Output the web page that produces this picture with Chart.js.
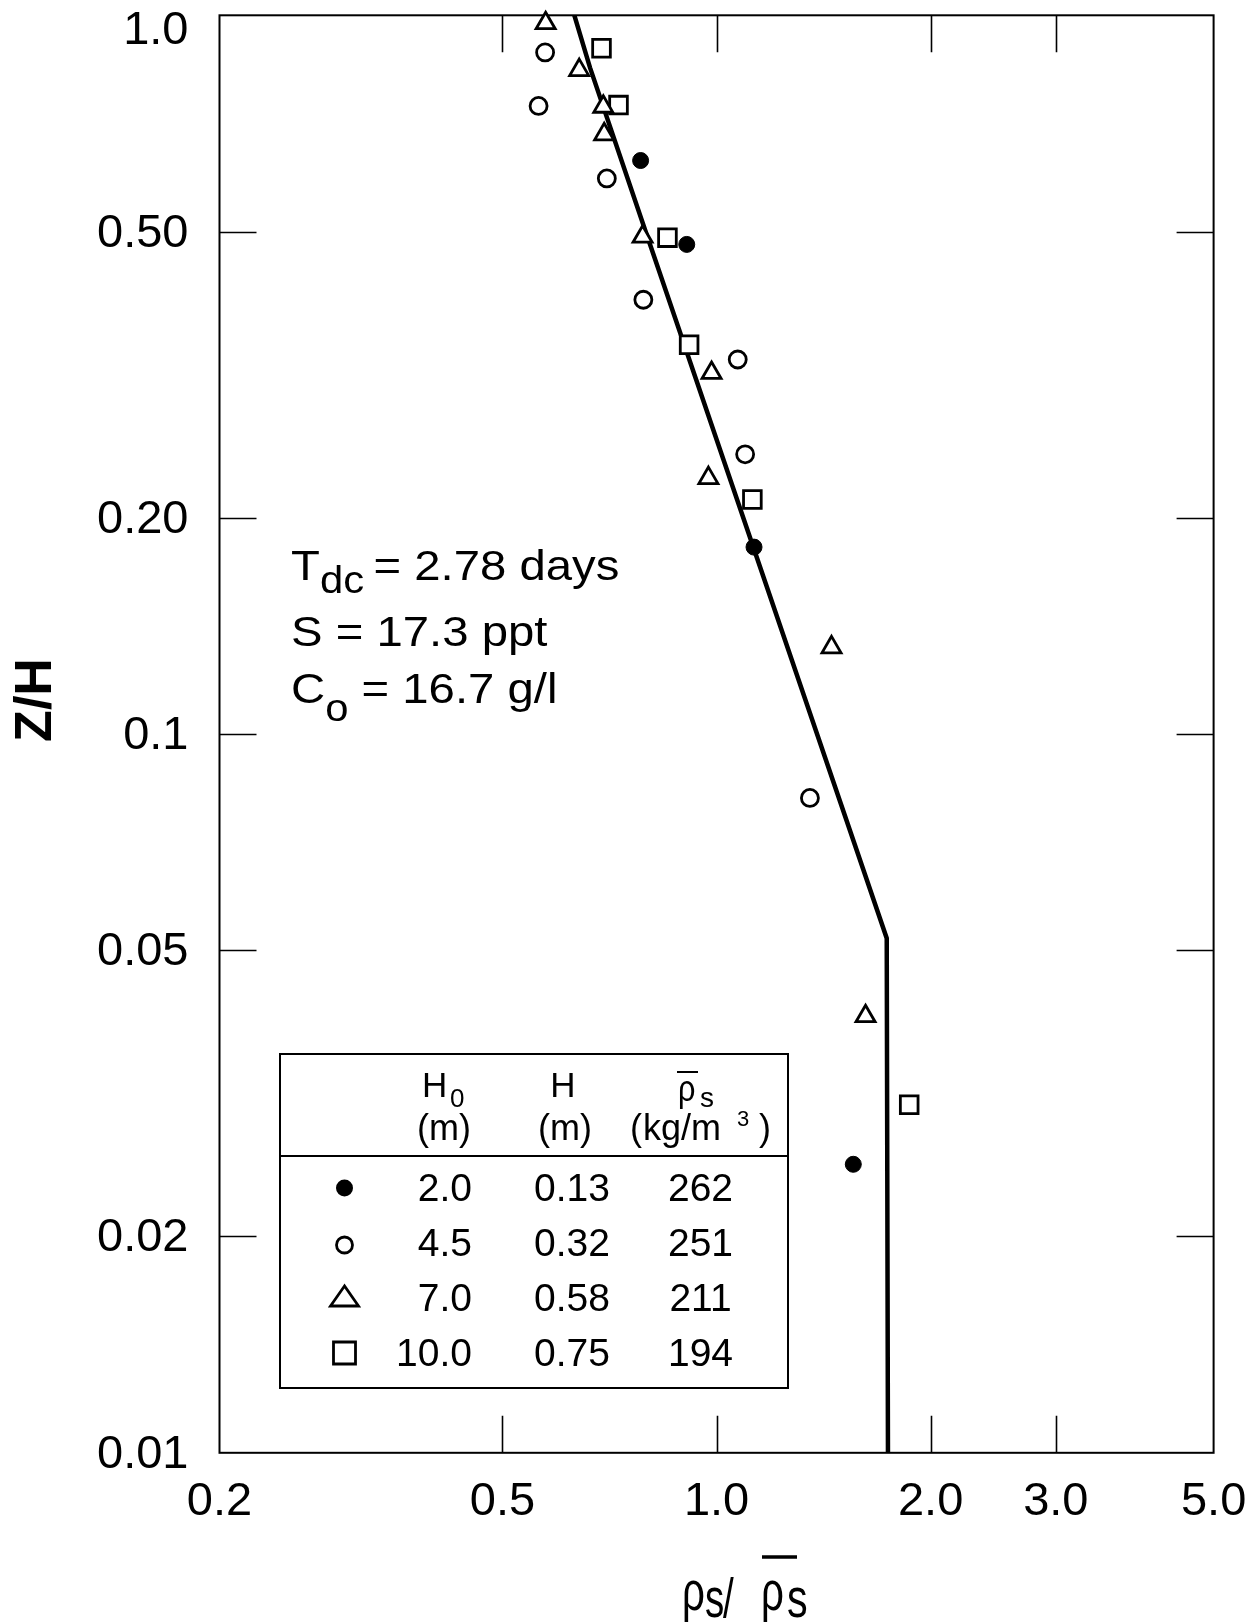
<!DOCTYPE html>
<html>
<head>
<meta charset="utf-8">
<script src="https://cdn.jsdelivr.net/npm/chart.js@4.4.1/dist/chart.umd.min.js"></script>
<style>
    html, body { margin: 0; padding: 0; background: #ffffff; }
    #wrap { width: 1255px; height: 1623px; position: relative; }
</style>
</head>
<body>
<div id="wrap"><canvas id="profileChart"></canvas></div>
<script>
// AXES
const xTicks = [0.2, 0.5, 1, 2, 3, 5];
const xTickLabels = ['0.2', '0.5', '1.0', '2.0', '3.0', '5.0'];
const yTicks = [0.01, 0.02, 0.05, 0.1, 0.2, 0.5, 1];
const yTickLabels = ['0.01', '0.02', '0.05', '0.1', '0.20', '0.50', '1.0'];

// H0 = 2.0 m (filled circles)
const h20X = [0.782, 0.908, 1.129, 1.557];
const h20Y = [0.628, 0.480, 0.182, 0.0252];

// H0 = 4.5 m (open circles)
const h45X = [0.574, 0.562, 0.701, 0.789, 1.071, 1.097, 1.353];
const h45Y = [0.888, 0.748, 0.593, 0.402, 0.332, 0.245, 0.0815];

// H0 = 7.0 m (triangles)
const h70X = [0.575, 0.641, 0.693, 0.695, 0.787, 0.984, 0.974, 1.451, 1.62];
const h70Y = [0.975, 0.839, 0.746, 0.683, 0.492, 0.318, 0.227, 0.132, 0.0405];

// H0 = 10.0 m (squares)
const h100X = [0.689, 0.728, 0.853, 0.915, 1.123, 1.866];
const h100Y = [0.900, 0.750, 0.4905, 0.348, 0.212, 0.0305];

// fitted profile
const fitX = [0.631, 0.664, 0.795, 1.735, 1.742];
const fitY = [1.0, 0.845, 0.5, 0.052, 0.01];

// legend table
const legendH0 = ['2.0', '4.5', '7.0', '10.0'];
const legendH = ['0.13', '0.32', '0.58', '0.75'];
const legendRho = ['262', '251', '211', '194'];
const legendStyles = ['dot', 'circle', 'triangle', 'square'];

const FONT = "'Liberation Sans', Arial, Helvetica, sans-serif";

function font(size, bold) {
    return (bold ? 'bold ' : '') + size + 'px ' + FONT;
}

function toPoints(xs, ys) {
    return xs.map((x, i) => ({ x: x, y: ys[i] }));
}

// text pieces side by side, [text, size, dy]
function drawRuns(ctx, x, y, runs, stretch) {
    ctx.save();
    ctx.translate(x, y);
    ctx.scale(stretch, 1);
    let cx = 0;
    runs.forEach(([t, size, dy]) => {
        ctx.font = font(size);
        ctx.fillText(t, cx, dy);
        cx += ctx.measureText(t).width;
    });
    ctx.restore();
}

// one glyph, squeezed sideways
function drawGlyph(ctx, t, x, y, size, sx) {
    ctx.save();
    ctx.translate(x, y);
    ctx.scale(sx, 1);
    ctx.font = font(size);
    ctx.fillText(t, 0, 0);
    ctx.restore();
}

function drawMarker(ctx, style, x, y) {
    ctx.save();
    ctx.strokeStyle = '#000';
    ctx.fillStyle = '#000';
    ctx.lineWidth = 2.8;
    ctx.beginPath();
    if (style === 'dot') {
        ctx.arc(x, y, 8.5, 0, Math.PI * 2);
        ctx.fill();
    } else if (style === 'circle') {
        ctx.arc(x, y, 8, 0, Math.PI * 2);
        ctx.stroke();
    } else if (style === 'triangle') {
        ctx.moveTo(x, y - 11);
        ctx.lineTo(x - 14, y + 9);
        ctx.lineTo(x + 14, y + 9);
        ctx.closePath();
        ctx.stroke();
    } else {
        ctx.rect(x - 11, y - 11, 22, 22);
        ctx.stroke();
    }
    ctx.restore();
}

const frameAndNotes = {
    id: 'frameAndNotes',

    beforeDatasetsDraw(chart) {
        const ctx = chart.ctx;
        const a = chart.chartArea;
        const xs = chart.scales.x;
        const ys = chart.scales.y;
        const tick = 37;

        ctx.save();
        ctx.strokeStyle = '#000';
        ctx.lineWidth = 2;
        ctx.strokeRect(a.left, a.top, a.right - a.left, a.bottom - a.top);

        ctx.lineWidth = 1.6;
        ctx.beginPath();
        xTicks.slice(1, -1).forEach(v => {
            const px = Math.round(xs.getPixelForValue(v)) + 0.5;
            ctx.moveTo(px, a.bottom);
            ctx.lineTo(px, a.bottom - tick);
            ctx.moveTo(px, a.top);
            ctx.lineTo(px, a.top + tick);
        });
        yTicks.slice(1, -1).forEach(v => {
            const py = Math.round(ys.getPixelForValue(v)) + 0.5;
            ctx.moveTo(a.left, py);
            ctx.lineTo(a.left + tick, py);
            ctx.moveTo(a.right, py);
            ctx.lineTo(a.right - tick, py);
        });
        ctx.stroke();
        ctx.restore();
    },

    afterDraw(chart) {
        const ctx = chart.ctx;
        ctx.save();
        ctx.fillStyle = '#000';
        ctx.strokeStyle = '#000';
        ctx.textBaseline = 'alphabetic';
        ctx.textAlign = 'left';

        // run conditions
        drawRuns(ctx, 291, 580, [['T', 43, 0], ['dc', 38, 12.7], ['\u2009= 2.78 days', 43, 0]], 1.1);
        drawRuns(ctx, 291, 646, [['S = 17.3 ppt', 43, 0]], 1.1);
        drawRuns(ctx, 291, 703, [['C', 43, 0], ['o', 38, 18], [' = 16.7 g/l', 43, 0]], 1.1);

        // legend table
        ctx.lineWidth = 2;
        ctx.strokeRect(280, 1054, 508, 334);
        ctx.beginPath();
        ctx.moveTo(280, 1156);
        ctx.lineTo(788, 1156);
        ctx.stroke();

        ctx.font = font(35);
        ctx.fillText('H', 422, 1097);
        ctx.font = font(26);
        ctx.fillText('0', 450, 1107);
        ctx.font = font(36);
        ctx.textAlign = 'center';
        ctx.fillText('(m)', 444, 1140);
        ctx.font = font(35);
        ctx.fillText('H', 563, 1097);
        ctx.font = font(36);
        ctx.fillText('(m)', 565, 1140);

        ctx.textAlign = 'left';
        drawGlyph(ctx, '\u03c1', 678, 1101, 36, 0.85);
        ctx.font = font(28);
        ctx.fillText('s', 700, 1107);
        ctx.lineWidth = 2;
        ctx.beginPath();
        ctx.moveTo(677, 1072);
        ctx.lineTo(698, 1072);
        ctx.stroke();

        ctx.font = font(36);
        ctx.fillText('(', 630, 1140);
        ctx.fillText('kg/m', 643, 1140);
        ctx.fillText(')', 759, 1140);
        ctx.font = font(22);
        ctx.fillText('3', 737, 1126);

        const rowY = [1201, 1256, 1311, 1366];
        const markY = [1188, 1245, 1297, 1353];
        ctx.font = font(39);
        legendH0.forEach((t, i) => {
            drawMarker(ctx, legendStyles[i], 344.5, markY[i]);
            ctx.textAlign = 'right';
            ctx.fillText(t, 472, rowY[i]);
            ctx.textAlign = 'center';
            ctx.fillText(legendH[i], 572, rowY[i]);
            ctx.fillText(legendRho[i], 700.5, rowY[i]);
        });

        // y axis title
        ctx.save();
        ctx.translate(37, 700);
        ctx.rotate(-Math.PI / 2);
        ctx.font = font(52, true);
        ctx.textAlign = 'center';
        ctx.textBaseline = 'middle';
        ctx.fillText('Z/H', 0, 0);
        ctx.restore();

        // x axis title
        ctx.textAlign = 'left';
        ctx.textBaseline = 'alphabetic';
        drawGlyph(ctx, '\u03c1', 682, 1610, 56, 0.72);
        drawGlyph(ctx, 's', 705, 1617, 55, 0.7);
        drawGlyph(ctx, '/', 723, 1617, 55, 0.7);
        drawGlyph(ctx, '\u03c1', 761, 1610, 56, 0.72);
        drawGlyph(ctx, 's', 787, 1617, 55, 0.75);
        ctx.lineWidth = 3.5;
        ctx.beginPath();
        ctx.moveTo(762, 1557);
        ctx.lineTo(797, 1557);
        ctx.stroke();

        ctx.restore();
    }
};

const ctx = document.getElementById('profileChart');

new Chart(ctx, {
    type: 'scatter',

    data: {
        datasets: [
            {
                label: 'H0 = 2.0 m',
                data: toPoints(h20X, h20Y),
                pointStyle: 'circle',
                pointRadius: 8,
                backgroundColor: '#000000',
                borderColor: '#000000',
                borderWidth: 1,
                order: 1,
                clip: false
            },
            {
                label: 'H0 = 4.5 m',
                data: toPoints(h45X, h45Y),
                pointStyle: 'circle',
                pointRadius: 8.5,
                backgroundColor: '#ffffff',
                borderColor: '#000000',
                borderWidth: 2.8,
                order: 1,
                clip: false
            },
            {
                label: 'H0 = 7.0 m',
                data: toPoints(h70X, h70Y),
                pointStyle: 'triangle',
                pointRadius: 11,
                backgroundColor: '#ffffff',
                borderColor: '#000000',
                borderWidth: 2.8,
                order: 1,
                clip: false
            },
            {
                label: 'H0 = 10.0 m',
                data: toPoints(h100X, h100Y),
                pointStyle: 'rect',
                pointRadius: 12.5,
                backgroundColor: '#ffffff',
                borderColor: '#000000',
                borderWidth: 2.8,
                order: 1,
                clip: false
            },
            {
                type: 'line',
                label: 'profile',
                data: toPoints(fitX, fitY),
                borderColor: '#000000',
                borderWidth: 4.5,
                pointRadius: 0,
                tension: 0,
                fill: false,
                order: 5
            }
        ]
    },

    options: {
        responsive: true,
        maintainAspectRatio: false,
        animation: false,

        layout: {
            padding: { top: 14.5, right: 41.4, left: 0, bottom: 0 }
        },

        plugins: {
            legend: { display: false },
            tooltip: { enabled: false }
        },

        scales: {
            x: {
                type: 'logarithmic',
                min: 0.2,
                max: 5,
                grid: { display: false, drawTicks: false },
                border: { display: false },
                afterBuildTicks: scale => {
                    scale.ticks = xTicks.map(v => ({ value: v }));
                },
                afterFit: scale => {
                    scale.height = 170.2;
                    scale.paddingLeft = 0;
                    scale.paddingRight = 0;
                },
                ticks: {
                    autoSkip: false,
                    maxRotation: 0,
                    minRotation: 0,
                    padding: 21,
                    color: '#000000',
                    font: { family: FONT, size: 47 },
                    callback: value => xTickLabels[xTicks.indexOf(value)]
                }
            },

            y: {
                type: 'logarithmic',
                min: 0.01,
                max: 1,
                grid: { display: false, drawTicks: false },
                border: { display: false },
                afterBuildTicks: scale => {
                    scale.ticks = yTicks.map(v => ({ value: v }));
                },
                afterFit: scale => {
                    scale.width = 219.5;
                    scale.paddingTop = 0;
                    scale.paddingBottom = 0;
                },
                ticks: {
                    autoSkip: false,
                    padding: 31,
                    labelOffset: 2,
                    color: '#000000',
                    font: c => (c.tick && c.tick.value === 1)
                        ? { family: FONT, size: 47, lineHeight: 0.58 }
                        : { family: FONT, size: 47 },
                    callback: value => {
                        const label = yTickLabels[yTicks.indexOf(value)];
                        // top label sits below the frame corner
                        return value === 1 ? ['', label] : label;
                    }
                }
            }
        }
    },

    plugins: [frameAndNotes]
});
</script>
</body>
</html>
